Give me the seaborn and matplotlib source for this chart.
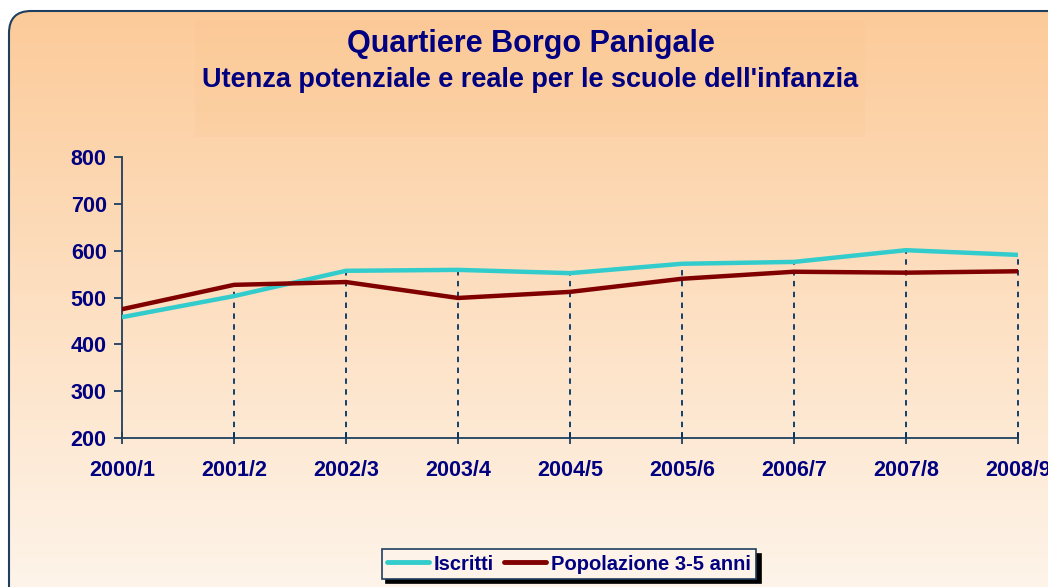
# Quartiere Borgo Panigale - utenza scuole dell'infanzia

import numpy as np
import pandas as pd
import matplotlib.pyplot as plt
import seaborn as sns
from matplotlib.patches import FancyBboxPatch, Rectangle

anni = ['2000/1', '2001/2', '2002/3', '2003/4', '2004/5', '2005/6', '2006/7', '2007/8', '2008/9']
iscritti = [458, 503, 557, 559, 552, 572, 576, 601, 591]
popolazione = [475, 527, 533, 499, 512, 540, 555, 553, 556]

navy = '#000080'
frame_col = '#1F3F5F'

data = pd.DataFrame({
    'Anno': anni * 2,
    'Valore': iscritti + popolazione,
    'Serie': ['Iscritti'] * len(anni) + ['Popolazione 3-5 anni'] * len(anni),
})

sns.set_style('white')
plt.rcParams['font.family'] = ['Liberation Sans', 'DejaVu Sans']
plt.rcParams['font.weight'] = 'bold'

fig = plt.figure(figsize=(10.48, 5.87), dpi=100)
fig.patch.set_facecolor('white')

# background with rounded border and gradient
bg = fig.add_axes([0, 0, 1, 1])
bg.set_xlim(0, 1048)
bg.set_ylim(587, 0)
bg.axis('off')
grad = np.linspace(0, 1, 256).reshape(-1, 1)
top = np.array([252, 202, 152]) / 255
bot = np.array([254, 244, 233]) / 255
img = top + (bot - top) * grad[..., None]
img = img.reshape(256, 1, 3)
im = bg.imshow(img, extent=[0, 1048, 587, 0], aspect='auto', zorder=0)
border = FancyBboxPatch((9, 11), 1100, 650, boxstyle='round,pad=0,rounding_size=22',
                        facecolor='none', edgecolor=frame_col, linewidth=1.5, zorder=2)
bg.add_patch(border)
im.set_clip_path(border)
bg.add_patch(Rectangle((195, 20), 670, 117, facecolor='#FBC48C', alpha=0.2,
                       edgecolor='none', zorder=1))

fig.text(0.507, 1 - 44 / 587, 'Quartiere Borgo Panigale', ha='center', va='center',
         fontsize=22, fontweight='bold', color=navy)
fig.text(0.506, 1 - 80 / 587, "Utenza potenziale e reale per le scuole dell'infanzia",
         ha='center', va='center', fontsize=19.5, fontweight='bold', color=navy)

ax = fig.add_axes([122 / 1048, 1 - 438 / 587, (1018 - 122) / 1048, (438 - 157) / 587])
ax.patch.set_alpha(0)

x = np.arange(len(anni))
tops = np.maximum(iscritti, popolazione)
ax.vlines(x[1:], 200, tops[1:], colors='#003366', linestyles=(0, (3, 3)), linewidth=1.3,
          zorder=1, clip_on=False)

sns.lineplot(data=data, x='Anno', y='Valore', hue='Serie', sort=False,
             palette={'Iscritti': '#33CCCC', 'Popolazione 3-5 anni': '#800000'},
             linewidth=3.2, ax=ax, zorder=3)

ax.set_xlim(0, len(anni) - 1)
ax.set_ylim(200, 800)
ax.set_yticks(range(200, 801, 100))
ax.set_xticks(x)
ax.set_xticklabels(anni)
ax.set_xlabel('')
ax.set_ylabel('')
for side in ['top', 'right']:
    ax.spines[side].set_visible(False)
for side in ['left', 'bottom']:
    ax.spines[side].set_color(frame_col)
    ax.spines[side].set_linewidth(1.3)
ax.tick_params(axis='y', left=True, direction='out', length=6, width=1.3, color=frame_col,
               labelcolor=navy, labelsize=15.5, pad=5)
ax.tick_params(axis='x', bottom=True, direction='inout', length=8, width=1.3, color=frame_col,
               labelcolor=navy, labelsize=15.5, pad=12)
for lab in ax.get_xticklabels() + ax.get_yticklabels():
    lab.set_fontweight('bold')

leg = ax.legend(loc='center', bbox_to_anchor=(569 / 1048, 1 - 564 / 587),
                bbox_transform=fig.transFigure, ncol=2, frameon=True, fancybox=False,
                shadow={'color': 'black', 'alpha': 1, 'ox': 3, 'oy': -3},
                handlelength=2.1, handletextpad=0.25,
                columnspacing=0.5, borderpad=0.25, borderaxespad=0,
                prop={'size': 14.5, 'weight': 'bold'})
leg.get_frame().set_edgecolor(frame_col)
leg.get_frame().set_facecolor('#FEF3E8')
leg.get_frame().set_linewidth(1.2)
for t in leg.get_texts():
    t.set_color(navy)
for h in leg.get_lines():
    h.set_linewidth(3.5)

fig.savefig('out.png', dpi=100)
